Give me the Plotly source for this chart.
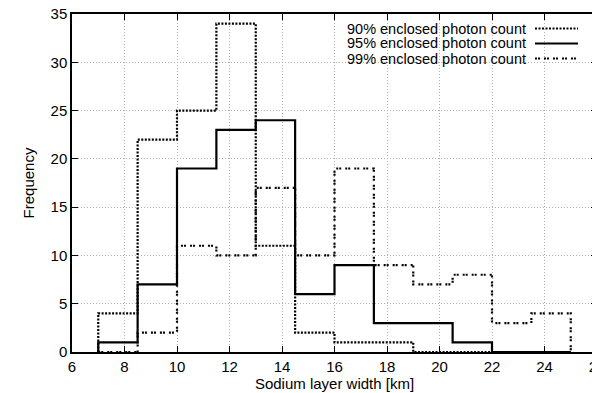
"""Sodium layer width histograms for three enclosed photon count levels."""
import plotly.graph_objects as go

# ── Data ──────────────────────────────────────────────────────────────────────
BIN_EDGES = [7.0, 8.5, 10.0, 11.5, 13.0, 14.5, 16.0, 17.5, 19.0, 20.5, 22.0, 23.5, 25.0]
COUNTS_90 = [4, 22, 25, 34, 11, 2, 1, 1, 0, 0, 0, 0]
COUNTS_95 = [1, 7, 19, 23, 24, 6, 9, 3, 3, 1, 0, 0]
COUNTS_99 = [0, 2, 11, 10, 17, 10, 19, 9, 7, 8, 3, 4]
LABELS = ['90% enclosed photon count',
          '95% enclosed photon count',
          '99% enclosed photon count']

# ── Style ─────────────────────────────────────────────────────────────────────
FONT = 'Liberation Sans, Arial, sans-serif'
FS = 15
FS_KEY = 14.5
DASHES = ['2px,1.5px', 'solid', '2px,1px,2px,4px']
WIDTHS = [2.2, 2.2, 2.2]

# plot area in pixels (600x393 canvas)
M_L, M_R, M_T, M_B = 64, 11, 6, 49
PLOT_W = 600 - M_L - M_R
PLOT_H = 393 - M_T - M_B


def _step_xy(edges, counts):
    """Outline of a histogram drawn with hv steps, closed to zero at both ends."""
    return [edges[0]] + list(edges), [0] + list(counts) + [0]


def main() -> None:
    fig = go.Figure()
    for counts, label, dash, w in zip([COUNTS_90, COUNTS_95, COUNTS_99],
                                      LABELS, DASHES, WIDTHS):
        x, y = _step_xy(BIN_EDGES, counts)
        fig.add_trace(go.Scatter(
            x=x, y=y, mode='lines', name=label, line_shape='hv',
            line=dict(color='black', width=w, dash=dash),
            showlegend=False,
        ))

    # gnuplot-style key: right-aligned text, sample line to its right
    text_x = (520 - M_L) / PLOT_W
    s0, s1 = (527 - M_L) / PLOT_W, (570 - M_L) / PLOT_W
    for i, (label, dash, w) in enumerate(zip(LABELS, DASHES, WIDTHS)):
        yp = 1 - (20.5 + 15 * i - M_T) / PLOT_H
        fig.add_annotation(
            x=text_x, y=yp, xref='paper', yref='paper', text=label,
            showarrow=False, xanchor='right', yanchor='middle',
            font=dict(family=FONT, size=FS_KEY, color='black'),
        )
        fig.add_shape(type='line', xref='paper', yref='paper',
                      x0=s0, x1=s1, y0=yp, y1=yp,
                      line=dict(color='black', width=w, dash=dash))

    axis_common = dict(
        showline=True, linecolor='black', linewidth=1.5, mirror='ticks',
        ticks='inside', ticklen=6, tickcolor='black', tickwidth=1,
        showgrid=True, gridcolor='#b0b0b0', gridwidth=1, griddash='1px,2px',
        zeroline=False, automargin=False, ticklabeloverflow='allow',
        tickfont=dict(family=FONT, size=FS, color='black'),
    )
    fig.update_xaxes(range=[6, 26], dtick=2, tick0=6,
                     title=dict(text='Sodium layer width [km]', standoff=1,
                                font=dict(family=FONT, size=FS, color='black')),
                     **axis_common)
    fig.update_yaxes(range=[0, 35], dtick=5,
                     title=dict(text='Frequency', standoff=12,
                                font=dict(family=FONT, size=FS, color='black')),
                     **axis_common)

    fig.update_layout(
        width=600, height=393,
        margin=dict(l=M_L, r=M_R, t=M_T, b=M_B),
        paper_bgcolor='white', plot_bgcolor='white',
        font=dict(family=FONT, color='black'),
    )
    fig.write_html('out.html')


if __name__ == '__main__':
    main()
